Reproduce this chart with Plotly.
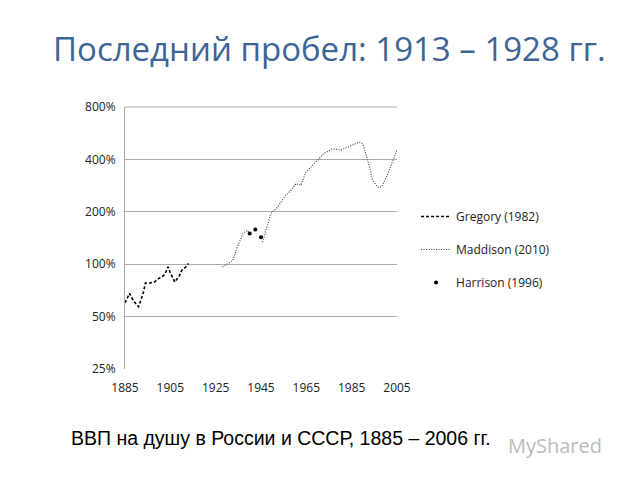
import plotly.graph_objects as go
import math

greg_years = [1885,1887,1888,1889,1891,1893,1894,1896,1898,1900,1902,1903,1904,1905,1907,1909,1910,1912,1913]
greg_vals = [0.60,0.68,0.64,0.61,0.57,0.68,0.78,0.78,0.79,0.83,0.86,0.90,0.965,0.89,0.79,0.86,0.92,0.97,1.01]

madd_years = [1928,1932.5,1934,1937,1939,1940,None,1945.7,1948,1949.4,1952.4,1955.3,1958.2,1960.4,1962.6,1964.8,1967.8,1970.7,1972.9,1976.6,1980.3,1984.7,1988.4,1989.9,1992.1,1994.3,1996.5,1998.2,2001,2005]
madd_vals = [0.965,1.05,1.20,1.50,1.57,1.50,None,1.34,1.72,1.96,2.13,2.43,2.66,2.90,2.84,3.38,3.70,4.03,4.35,4.60,4.53,4.80,5.03,4.92,3.95,3.03,2.77,2.78,3.31,4.53]

harr_years = [1940,1942.5,1945]
harr_vals = [1.50,1.58,1.43]

tick_vals = [0.25,0.5,1,2,4,8]
tick_text = ["25%","50%","100%","200%","400%","800%"]
x_ticks = [1885,1905,1925,1945,1965,1985,2005]

fig = go.Figure()
fig.add_trace(go.Scatter(x=greg_years, y=greg_vals, mode="lines", name="Gregory (1982)", legendgroup="g",
                         line=dict(color="black", width=1.6, dash="3px,2px")))
fig.add_trace(go.Scatter(x=madd_years, y=madd_vals, mode="lines", name="Maddison (2010)", legendgroup="m",
                         line=dict(color="#444", width=1.2, dash="1px,1.5px"), connectgaps=False))
fig.add_trace(go.Scatter(x=harr_years, y=harr_vals, mode="markers", name="Harrison (1996)", legendgroup="h",
                         marker=dict(color="black", size=4)))

H = 262
W = 272
X0 = 124
fig.update_layout(
    width=640, height=480, paper_bgcolor="white", plot_bgcolor="white",
    margin=dict(l=117, r=251, t=99, b=119),
    font=dict(family="Open Sans, Arial", size=12, color="#222"),
    xaxis=dict(range=[1885,2005], tickvals=x_ticks, showgrid=False, showline=False,
               zeroline=False, ticks="", tickfont=dict(size=12), ticklabelstandoff=10),
    yaxis=dict(type="log", range=[math.log10(0.25), math.log10(8)], tickvals=tick_vals,
               ticktext=tick_text, showgrid=True, gridcolor="#aaa", gridwidth=1,
               showline=True, linecolor="#aaa", ticks="", tickfont=dict(size=12), ticklabelstandoff=6),
    legend=dict(x=1.07, y=(368-201)/H, xanchor="left", yanchor="top", tracegroupgap=14,
                font=dict(size=12)),
    shapes=[dict(type="line", xref="paper", yref="paper", x0=0, x1=1, y0=1, y1=1,
                 line=dict(color="#aaa", width=1))],
    annotations=[
        dict(text="Последний пробел: 1913 – 1928 гг.", xref="paper", yref="paper",
             x=(50-X0)/W, y=(368-48)/H, xanchor="left", yanchor="middle", showarrow=False,
             font=dict(size=33, color="#3d6496", family="Open Sans, Arial")),
        dict(text="ВВП на душу в России и СССР, 1885 – 2006 гг.", xref="paper", yref="paper",
             x=(68-X0)/W, y=(368-437)/H, xanchor="left", yanchor="middle", showarrow=False,
             font=dict(size=19.5, color="black", family="Liberation Sans, Arial")),
        dict(text="MyShared", xref="paper", yref="paper",
             x=(505-X0)/W, y=(368-444)/H, xanchor="left", yanchor="middle", showarrow=False,
             font=dict(size=20, color="#bbbbbb", family="Open Sans, Arial")),
    ],
)
fig.write_html("out.html")
